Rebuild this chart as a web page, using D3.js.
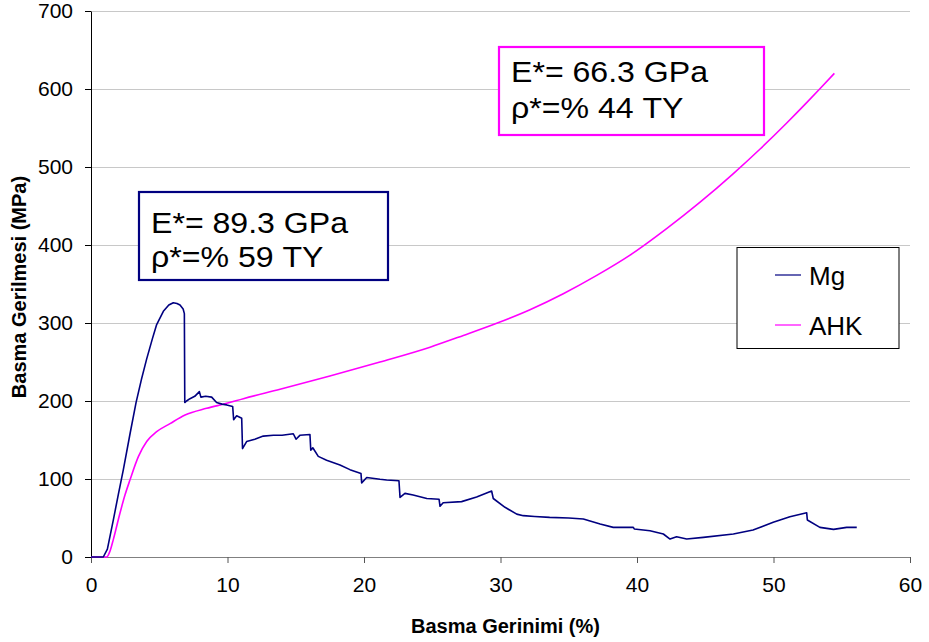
<!DOCTYPE html>
<html>
<head>
<meta charset="utf-8">
<script src="https://cdn.jsdelivr.net/npm/d3@7"></script>
<style>
  html, body { margin: 0; padding: 0; background: #fff; }
  svg { display: block; font-family: "Liberation Sans", Arial, sans-serif; }
</style>
</head>
<body>
<svg id="chart" width="929" height="642"></svg>
<script>
// ---- data (strain %, stress MPa) ----
const mgData = [
  [0,0],[0.9,0],[1.2,10],[1.63,47],[2.0,80],[2.37,112],[2.86,158],[3.3,198],[3.7,228],[4.08,254],
  [4.5,280],[4.81,298],[5.3,315],[5.7,323],[6.03,326],[6.3,325],[6.52,323],[6.75,318],[6.84,312],[6.87,198],
  [7.0,200],[7.25,203],[7.6,206],[7.94,212],[8.05,205],[8.4,206],[8.84,205],[9.2,198],[9.6,196],
  [9.94,195],[10.38,193],[10.45,176],[10.67,181],[11.04,178],[11.1,139],[11.4,148],[12.0,151],
  [12.62,155],[13.36,156],[14.0,156],[14.82,158],[15.02,151],[15.3,156],[16.04,157],[16.1,137],
  [16.25,140],[16.65,129],[17.26,124],[18.24,118],[18.97,112],[19.78,107],[19.83,95],[20.2,102],
  [21.17,99.6],[21.66,98.7],[22.56,97.8],[22.64,76.5],[23.0,81.6],[23.6,79.5],[24.6,75],[25.5,74],
  [25.57,65],[25.8,69.6],[27.15,71],[28.25,77],[29.35,84.6],[29.47,75],[30.33,63.7],[31.19,55],
  [31.67,53],[32.5,52],[33.6,50.8],[35.0,50],[36.07,48.7],[37.3,42.3],[38.26,38],[39.73,38],
  [39.8,36],[40.95,33.7],[41.93,29.5],[42.42,23],[42.9,26],[43.64,23],[44.86,25.2],[47.06,29.5],
  [48.5,34.6],[49.98,44.4],[51.2,51.7],[52.43,56.8],[52.48,47.4],[53.4,38],[54.4,35.4],[55.36,38],
  [56.1,38]
];
const ahkData = [
  [0,0],[1.15,0],[1.4,8],[1.63,22],[2.12,56],[2.5,80],[2.86,99],[3.47,128.6],[4.08,148],[4.81,160.6],
  [5.79,171],[6.89,182],[8.47,190.6],[9.94,197],[11.16,203],[13.85,215],[17.5,232],[21.17,250],
  [24.84,269],[27.28,284],[29.72,299.6],[32.16,317],[34.6,337.5],[37.05,361],[39.49,387],
  [42.17,421],[44.6,454.6],[47.06,491.6],[49.0,522.8],[50.97,556.4],[52.43,582.5],[53.4,600.3],[54.46,620]
];
const xTicks = [0, 10, 20, 30, 40, 50, 60];
const yTicks = [0, 100, 200, 300, 400, 500, 600, 700];
const seriesNames = ["Mg", "AHK"];
const seriesColors = ["#000080", "#FF00FF"];
const annoMg = ["E*= 89.3 GPa", "\u03C1*=% 59 TY"];
const annoAhk = ["E*= 66.3 GPa", "\u03C1*=% 44 TY"];
const xTitle = "Basma Gerinimi (%)";
const yTitle = "Basma Gerilmesi (MPa)";

// ---- layout ----
const svg = d3.select("#chart");
const x = d3.scaleLinear().domain([0, 60]).range([91, 910]);
const y = d3.scaleLinear().domain([0, 700]).range([557, 11]);

// gridlines
svg.append("g").selectAll("line").data(yTicks.filter(d => d > 0)).join("line")
  .attr("x1", x(0)).attr("x2", x(60))
  .attr("y1", d => y(d)).attr("y2", d => y(d))
  .attr("stroke", "#c8c8c8").attr("stroke-width", 1).attr("shape-rendering", "crispEdges");

// axes
const xAxis = svg.append("g").attr("transform", `translate(0,${y(0)})`)
  .call(d3.axisBottom(x).tickValues(xTicks).tickSize(6).tickPadding(14).tickSizeOuter(0));
xAxis.select(".domain").attr("stroke", "#808080");
xAxis.selectAll(".tick line").attr("stroke", "#555");
xAxis.selectAll("text").attr("font-size", 21).attr("fill", "#000")
  .attr("font-family", "Liberation Sans, Arial, sans-serif");

const yAxis = svg.append("g").attr("transform", `translate(${x(0)},0)`)
  .call(d3.axisLeft(y).tickValues(yTicks).tickSize(6).tickPadding(12).tickSizeOuter(0));
yAxis.select(".domain").attr("stroke", "#000");
yAxis.selectAll(".tick line").attr("stroke", "#000");
yAxis.selectAll("text").attr("font-size", 21).attr("fill", "#000")
  .attr("font-family", "Liberation Sans, Arial, sans-serif");

// axis titles
svg.append("text").attr("x", (x(0) + x(60)) / 2 + 5).attr("y", 633)
  .attr("text-anchor", "middle").attr("font-size", 20).attr("font-weight", "bold")
  .text(xTitle);
svg.append("text").attr("transform", `translate(26,${(y(0) + y(700)) / 2 + 3}) rotate(-90)`)
  .attr("text-anchor", "middle").attr("font-size", 20).attr("font-weight", "bold")
  .text(yTitle);

// series lines
svg.append("path").datum(ahkData)
  .attr("d", d3.line().x(d => x(d[0])).y(d => y(d[1])).curve(d3.curveMonotoneX))
  .attr("fill", "none").attr("stroke", seriesColors[1]).attr("stroke-width", 1.6);
svg.append("path").datum(mgData)
  .attr("d", d3.line().x(d => x(d[0])).y(d => y(d[1])))
  .attr("fill", "none").attr("stroke", seriesColors[0]).attr("stroke-width", 1.6)
  .attr("stroke-linejoin", "round");

// annotation boxes
function annotation(bx, by, bw, bh, color, lines, tx, baselines) {
  svg.append("rect").attr("x", bx).attr("y", by).attr("width", bw).attr("height", bh)
    .attr("fill", "#fff").attr("stroke", color).attr("stroke-width", 2.2);
  const g = svg.append("g").attr("transform", `translate(${tx},0) scale(1.07,1)`);
  lines.forEach((t, i) => {
    g.append("text").attr("x", 0).attr("y", baselines[i])
      .attr("font-size", 30).attr("fill", "#000").text(t);
  });
}
annotation(139, 192, 249, 88, seriesColors[0], annoMg, 151, [233, 267]);
annotation(499, 47, 265, 88, seriesColors[1], annoAhk, 511, [82, 118]);

// legend
const lg = svg.append("g");
lg.append("rect").attr("x", 737).attr("y", 247.5).attr("width", 162).attr("height", 101)
  .attr("fill", "#fff").attr("stroke", "#000").attr("stroke-width", 1);
seriesNames.forEach((n, i) => {
  const ly = 275 + i * 50;
  lg.append("line").attr("x1", 775).attr("x2", 801).attr("y1", ly).attr("y2", ly)
    .attr("stroke", seriesColors[i]).attr("stroke-width", 1.2);
  lg.append("text").attr("x", 809).attr("y", ly + 9.5).attr("font-size", 26).attr("fill", "#000").text(n);
});
</script>
</body>
</html>
